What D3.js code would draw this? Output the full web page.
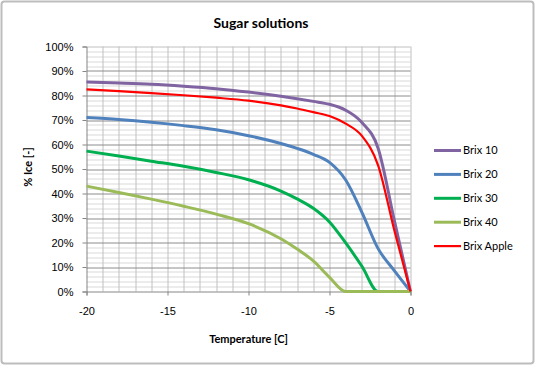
<!DOCTYPE html>
<html>
<head>
<meta charset="utf-8">
<script src="https://cdn.jsdelivr.net/npm/d3@7"></script>
<style>
  body { margin: 0; background: #fff; }
  svg { font-family: Lato, "Open Sans", sans-serif; }
</style>
</head>
<body>
<div id="chart"></div>
<script>
const temps = [-20, -18, -16, -14, -12, -10, -8, -7, -6, -5, -4, -3, -2, -1, 0];

const brix10 = [85.5, 85.1, 84.6, 83.8, 82.8, 81.4, 79.7, 78.7, 77.6, 76.4, 74.0, 69.0, 58.5, 29.0, 0];
const brix20 = [71.0, 70.2, 69.1, 67.7, 66.0, 63.6, 60.4, 58.4, 56.0, 52.7, 45.5, 32.3, 17.5, 8.5, 0];
const brix30 = [57.3, 55.3, 53.2, 51.1, 48.6, 45.6, 41.0, 37.8, 34.0, 28.4, 19.8, 10.3, 0, 0, 0];
const brix40 = [43.0, 40.4, 37.7, 34.8, 31.6, 27.7, 21.5, 17.3, 12.5, 5.8, 0, 0, 0, 0, 0];
const brixApple = [82.5, 81.8, 81.0, 80.1, 79.1, 77.9, 76.0, 74.7, 73.2, 71.6, 68.5, 63.5, 51.5, 25.0, 0];

const seriesNames = ['Brix 10', 'Brix 20', 'Brix 30', 'Brix 40', 'Brix Apple'];
const seriesValues = [brix10, brix20, brix30, brix40, brixApple];
const colors = ['#8064A2', '#4F81BD', '#00B050', '#9BBB59', '#FF0000'];
const widths = [3, 3, 3, 3, 2.2];

const xTicks = [-20, -15, -10, -5, 0];
const yTicks = [0, 10, 20, 30, 40, 50, 60, 70, 80, 90, 100];

const W = 535, H = 366;
const margin = { top: 46.5, right: 124.5, bottom: 74.5, left: 86.5 };
const width = W - margin.left - margin.right;
const height = H - margin.top - margin.bottom;

const svg = d3.select('#chart')
  .append('svg')
  .attr('width', W)
  .attr('height', H);

svg.append('rect')
  .attr('x', 1.5).attr('y', 1.5)
  .attr('width', W - 3).attr('height', H - 4)
  .attr('rx', 3)
  .attr('fill', '#fff')
  .attr('stroke', '#BDBDBD')
  .attr('stroke-width', 2);

const g = svg.append('g')
  .attr('transform', 'translate(' + margin.left + ',' + margin.top + ')');

const x = d3.scaleLinear().domain([-20, 0]).range([0, width]);
const y = d3.scaleLinear().domain([0, 100]).range([height, 0]);

// minor horizontal grid every 2%
g.append('g')
  .selectAll('line')
  .data(d3.range(0, 101, 2).filter(v => v % 10 !== 0))
  .enter().append('line')
  .attr('x1', 0).attr('x2', width)
  .attr('y1', d => Math.round(y(d)) + 0.5)
  .attr('y2', d => Math.round(y(d)) + 0.5)
  .attr('stroke', '#D9D9D9');

// vertical grid every 1 degree
g.append('g')
  .selectAll('line')
  .data(d3.range(-19, 1, 1))
  .enter().append('line')
  .attr('x1', d => Math.round(x(d)) + 0.5)
  .attr('x2', d => Math.round(x(d)) + 0.5)
  .attr('y1', 0).attr('y2', height)
  .attr('stroke', '#C0C0C0');

// major horizontal grid
g.append('g')
  .selectAll('line')
  .data(yTicks.filter(v => v > 0))
  .enter().append('line')
  .attr('x1', 0).attr('x2', width)
  .attr('y1', d => Math.round(y(d)) + 0.5)
  .attr('y2', d => Math.round(y(d)) + 0.5)
  .attr('stroke', d => d === 100 ? '#C0C0C0' : '#8C8C8C');

// y axis
const yAxis = g.append('g')
  .call(d3.axisLeft(y).tickValues(yTicks).tickSize(4).tickPadding(9).tickFormat(d => d + '%'));
yAxis.selectAll('line, path').attr('stroke', '#868686');
yAxis.selectAll('text').attr('font-size', 11).attr('fill', '#000');

// x axis
const xAxis = g.append('g')
  .attr('transform', 'translate(0,' + height + ')')
  .call(d3.axisBottom(x).tickValues(xTicks).tickSize(4).tickPadding(12).tickFormat(d => String(d)));
xAxis.selectAll('line, path').attr('stroke', '#868686');
xAxis.selectAll('text').attr('font-size', 11).attr('fill', '#000');

const line = d3.line()
  .x((d, i) => x(temps[i]))
  .y(d => y(d))
  .curve(d3.curveMonotoneX);

g.append('g')
  .selectAll('path')
  .data(seriesValues)
  .enter().append('path')
  .attr('d', line)
  .attr('fill', 'none')
  .attr('stroke', (d, i) => colors[i])
  .attr('stroke-width', (d, i) => widths[i])
  .attr('stroke-linejoin', 'round');

// titles
svg.append('text')
  .attr('x', 261).attr('y', 28)
  .attr('text-anchor', 'middle')
  .attr('font-size', 14).attr('font-weight', 'bold')
  .text('Sugar solutions');

svg.append('text')
  .attr('x', margin.left + width / 2).attr('y', 343)
  .attr('text-anchor', 'middle')
  .attr('font-size', 11).attr('font-weight', 'bold')
  .text('Temperature [C]');

svg.append('text')
  .attr('transform', 'translate(32,' + (margin.top + height / 2 - 2) + ') rotate(-90)')
  .attr('text-anchor', 'middle')
  .attr('font-size', 11).attr('font-weight', 'bold')
  .text('% Ice [-]');

// legend
const legend = svg.append('g')
  .selectAll('g')
  .data(seriesNames)
  .enter().append('g')
  .attr('transform', (d, i) => 'translate(434,' + (150.5 + i * 23.9) + ')');

legend.append('line')
  .attr('x1', 0).attr('x2', 27)
  .attr('stroke', (d, i) => colors[i])
  .attr('stroke-width', (d, i) => widths[i]);

legend.append('text')
  .attr('x', 29).attr('dy', '0.35em')
  .attr('font-size', 11)
  .text(d => d);
</script>
</body>
</html>
